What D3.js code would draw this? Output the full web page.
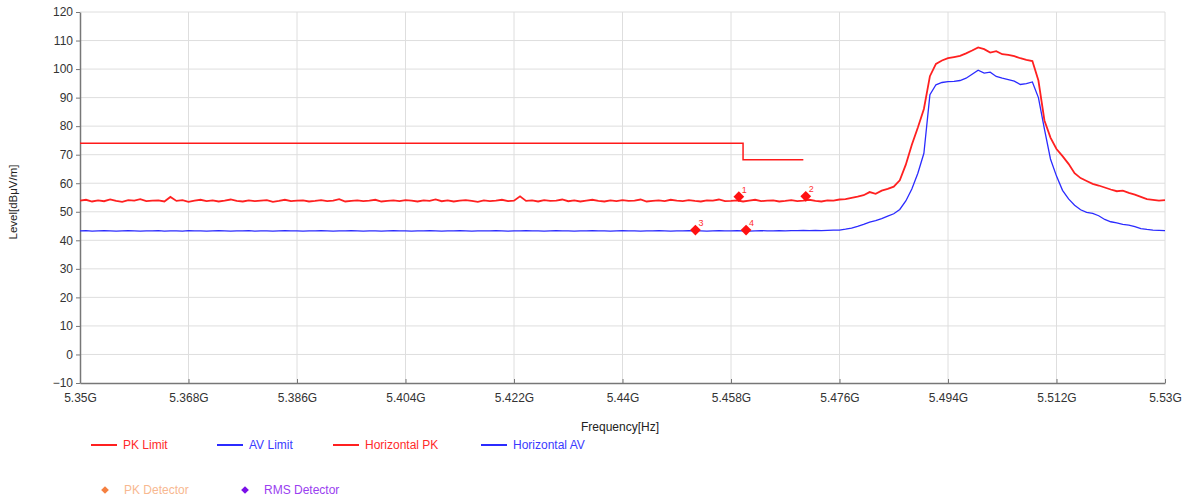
<!DOCTYPE html>
<html><head><meta charset="utf-8">
<script src="https://cdn.jsdelivr.net/npm/d3@7"></script>
<style>body{margin:0;background:#fff;}svg{display:block;font-family:"Liberation Sans",Arial,sans-serif;}</style>
</head><body>
<svg id="chart" width="1191" height="499"></svg>
<script>
// ---- data ----
const xTickValues = [5.35,5.368,5.386,5.404,5.422,5.44,5.458,5.476,5.494,5.512,5.53];
const xTickLabels = ["5.35G","5.368G","5.386G","5.404G","5.422G","5.44G","5.458G","5.476G","5.494G","5.512G","5.53G"];
const yTickValues = [-10,0,10,20,30,40,50,60,70,80,90,100,110,120];
const sweepStart = 5.35, sweepStep = 0.001;
const horizontalPK = [
53.9,54.2,53.6,54.0,53.7,54.3,53.8,53.5,54.1,53.9,
54.4,53.7,53.9,54.0,53.6,55.2,53.8,54.1,53.5,53.9,
54.2,53.7,54.0,53.6,53.9,54.3,53.8,53.6,54.0,53.7,
53.9,54.1,53.5,53.8,54.2,53.7,53.9,54.0,53.6,53.8,
54.1,53.7,53.9,54.4,53.6,53.8,54.0,53.7,53.9,54.2,
53.6,53.8,54.0,53.7,54.1,53.9,53.6,54.0,53.8,54.3,
53.7,54.0,53.6,53.9,54.1,53.8,53.5,54.0,53.7,53.9,
54.2,53.7,53.9,55.4,53.8,54.0,53.6,54.1,53.8,53.9,
54.3,53.7,54.0,53.6,53.9,54.2,53.8,53.6,54.0,53.7,
54.1,53.8,53.9,54.3,53.6,53.8,54.0,53.7,54.2,53.9,
53.7,54.1,53.8,53.6,54.0,53.9,54.3,53.7,53.8,54.0,
53.6,53.9,54.2,53.7,53.9,54.0,53.6,53.8,54.1,53.7,
53.9,54.2,53.8,53.6,54.0,53.9,54.3,
54.4,54.9,55.3,55.8,56.9,56.3,57.4,58.0,58.8,61.0,
66.5,73.5,79.5,86.0,97.5,101.8,103.0,103.8,104.2,104.6,
105.5,106.5,107.6,107.0,105.8,106.3,105.2,105.0,104.5,103.8,
103.2,102.8,96.0,82.0,76.0,72.0,69.5,66.8,63.5,61.8,
60.8,59.8,59.2,58.5,57.8,57.2,57.4,56.6,56.0,55.2,
54.4,54.2,53.9,54.1
];
const horizontalAV = [
43.3,43.4,43.2,43.3,43.4,43.3,43.2,43.3,43.4,43.3,
43.2,43.3,43.3,43.4,43.2,43.3,43.3,43.2,43.4,43.3,
43.3,43.2,43.3,43.4,43.3,43.2,43.3,43.3,43.4,43.2,
43.3,43.3,43.2,43.3,43.4,43.3,43.3,43.2,43.3,43.3,
43.4,43.3,43.2,43.3,43.3,43.4,43.3,43.2,43.3,43.3,
43.2,43.3,43.4,43.3,43.3,43.2,43.3,43.3,43.4,43.3,
43.2,43.3,43.3,43.4,43.3,43.2,43.3,43.3,43.3,43.4,
43.3,43.2,43.3,43.3,43.4,43.3,43.3,43.2,43.3,43.4,
43.3,43.3,43.2,43.3,43.3,43.4,43.3,43.3,43.2,43.3,
43.4,43.3,43.3,43.2,43.3,43.3,43.4,43.3,43.2,43.3,
43.3,43.4,43.3,43.3,43.2,43.3,43.4,43.3,43.3,43.4,
43.3,43.2,43.3,43.4,43.3,43.3,43.4,43.3,43.4,43.4,
43.5,43.4,43.5,43.4,43.5,43.6,43.6,
43.9,44.3,44.9,45.6,46.4,46.9,47.6,48.5,49.3,50.8,
53.8,58.0,63.5,70.5,91.0,94.5,95.3,95.6,95.7,96.0,
96.8,98.2,99.6,98.6,98.9,97.4,96.8,96.3,95.8,94.6,
94.9,95.5,90.0,79.0,68.5,62.5,57.5,54.5,52.3,50.7,
49.8,49.4,48.6,47.3,46.5,46.1,45.6,45.3,44.8,44.1,
43.8,43.6,43.5,43.4
];
const pkLimitFreq = [5.35,5.46,5.46,5.47];
const pkLimitLevel = [74,74,68.2,68.2];
const markerIds = ["1","2","3","4"];
const markerFreq = [5.4593,5.4704,5.4521,5.4605];
const markerLevel = [55.3,55.4,43.6,43.6];
const legendRow1 = ["PK Limit","AV Limit","Horizontal PK","Horizontal AV"];
const legendRow2 = ["PK Detector","RMS Detector"];

// ---- drawing ----
const svg = d3.select("#chart");
const plotL = 80, plotR = 1165, plotT = 12, plotB = 383;
const x = d3.scaleLinear().domain([5.35,5.53]).range([plotL,plotR]);
const y = d3.scaleLinear().domain([-10,120]).range([plotB,plotT]);

svg.append("rect").attr("width",1191).attr("height",499).attr("fill","#fff");

// grid
svg.append("g").selectAll("line").data(xTickValues.slice(1)).join("line")
  .attr("x1",d=>x(d)).attr("x2",d=>x(d)).attr("y1",plotT).attr("y2",plotB)
  .attr("stroke","#dedede").attr("stroke-width",1);
svg.append("g").selectAll("line").data(yTickValues.slice(1)).join("line")
  .attr("x1",plotL).attr("x2",plotR).attr("y1",d=>y(d)).attr("y2",d=>y(d))
  .attr("stroke","#dedede").attr("stroke-width",1);

// axes
const xAxis = d3.axisBottom(x).tickValues(xTickValues)
  .tickFormat((d,i)=>xTickLabels[i]).tickSizeInner(-4).tickSizeOuter(0).tickPadding(10);
const gx = svg.append("g").attr("transform",`translate(0,${plotB})`).call(xAxis);
gx.select(".domain").attr("stroke","#777").attr("stroke-width",1.5);
gx.selectAll(".tick line").attr("stroke","#777");
gx.selectAll("text").attr("font-size",12).attr("fill","#333").attr("font-family","Liberation Sans, Arial, sans-serif");

const yAxis = d3.axisLeft(y).tickValues(yTickValues).tickSizeInner(4).tickSizeOuter(0).tickPadding(3);
const gy = svg.append("g").attr("transform",`translate(${plotL},0)`).call(yAxis);
gy.select(".domain").attr("stroke","#777").attr("stroke-width",1.5);
gy.selectAll(".tick line").attr("stroke","#777");
gy.selectAll("text").attr("font-size",12).attr("fill","#333").attr("font-family","Liberation Sans, Arial, sans-serif");

// axis titles
svg.append("text").attr("x",620).attr("y",431).attr("text-anchor","middle")
  .attr("font-size",12).attr("fill","#222").text("Frequency[Hz]");
svg.append("text").attr("transform","translate(17,202) rotate(-90)").attr("text-anchor","middle")
  .attr("font-size",11.5).attr("fill","#222").text("Level[dBμV/m]");

// series
const pts = arr => arr.map((v,i)=>[sweepStart + i*sweepStep, v]);
const line = d3.line().x(d=>x(d[0])).y(d=>y(d[1]));
svg.append("path").datum(pts(horizontalAV)).attr("d",line)
  .attr("fill","none").attr("stroke","#2b2bff").attr("stroke-width",1.3);
svg.append("path").datum(pts(horizontalPK)).attr("d",line)
  .attr("fill","none").attr("stroke","#ff2020").attr("stroke-width",1.8);
svg.append("path").datum(pkLimitFreq.map((f,i)=>[f,pkLimitLevel[i]])).attr("d",line)
  .attr("fill","none").attr("stroke","#ff1a1a").attr("stroke-width",1.5);

// markers (square diamonds)
const diamond = d3.symbol().type(d3.symbolSquare).size(58);
const mg = svg.append("g");
markerIds.forEach((id,i)=>{
  const mx = x(markerFreq[i]), my = y(markerLevel[i]);
  mg.append("path").attr("d",diamond).attr("transform",`translate(${mx},${my}) rotate(45)`).attr("fill","#ff1010");
  mg.append("text").attr("x",mx+3).attr("y",my-4).attr("font-size",9).attr("fill","#ff3030").text(id);
});

// legend
const lg = svg.append("g").attr("font-size",12);
const row1X = [91,217,333,481];
const row1Col = ["#ff2020","#2b2bff","#ff2020","#2b2bff"];
const row1TextCol = ["#ff2a2a","#3a3aff","#ff2a2a","#3a3aff"];
legendRow1.forEach((t,i)=>{
  lg.append("line").attr("x1",row1X[i]).attr("x2",row1X[i]+26).attr("y1",445).attr("y2",445)
    .attr("stroke",row1Col[i]).attr("stroke-width",2);
  lg.append("text").attr("x",row1X[i]+32).attr("y",449).attr("fill",row1TextCol[i]).text(t);
});
const row2X = [105,245];
const row2Sym = ["#f58040","#7a10e8"];
const row2Text = ["#f8b890","#9a40f0"];
legendRow2.forEach((t,i)=>{
  lg.append("path").attr("d",d3.symbol().type(d3.symbolSquare).size(30))
    .attr("transform",`translate(${row2X[i]},${490}) rotate(45)`).attr("fill",row2Sym[i]);
  lg.append("text").attr("x",row2X[i]+19).attr("y",494).attr("fill",row2Text[i]).text(t);
});
</script>
</body></html>
